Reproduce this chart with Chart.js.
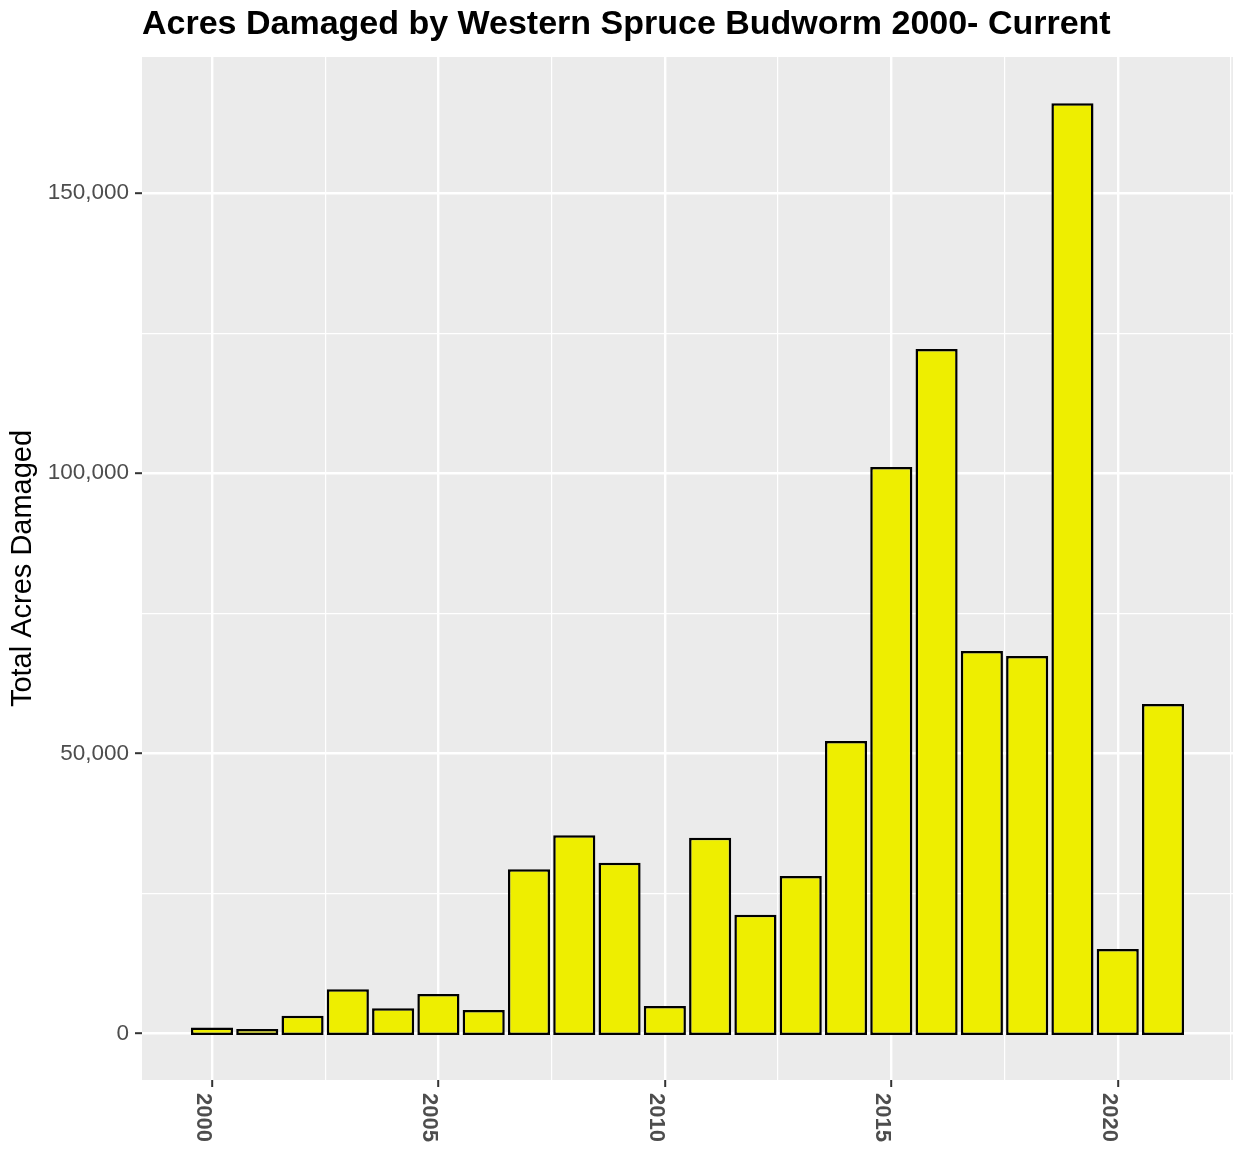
<!DOCTYPE html>
<html>
<head>
<meta charset="utf-8">
<script src="https://cdn.jsdelivr.net/npm/chart.js@4.4.1/dist/chart.umd.min.js"></script>
<style>
  body { margin: 0; background: #fff; }
  canvas { display: block; }
</style>
</head>
<body>
<canvas id="chart" width="1235" height="1153"></canvas>
<script>
// data
const years = [2000, 2001, 2002, 2003, 2004, 2005, 2006, 2007, 2008, 2009, 2010,
  2011, 2012, 2013, 2014, 2015, 2016, 2017, 2018, 2019, 2020, 2021];
const acresDamaged = [1070, 800, 3180, 7890, 4500, 7050, 4200, 29300, 35380, 30490, 4900,
  34950, 21200, 28110, 52210, 101100, 122180, 68270, 67380, 166040, 15080, 58810];
const xTickLabels = ['2000', '2005', '2010', '2015', '2020'];
const xGridValues = [2000, 2002.5, 2005, 2007.5, 2010, 2012.5, 2015, 2017.5, 2020, 2022.5];
const yTickValues = [0, 50000, 100000, 150000];
const yGridValues = [0, 25000, 50000, 75000, 100000, 125000, 150000];

const FONT = "'Liberation Sans', Arial, Helvetica, sans-serif";
const TICK_GREY = '#4D4D4D';

const isMajorX = v => xTickLabels.includes(String(v));
const isMajorY = v => yTickValues.includes(v);

// grey ggplot panel behind the grid
const panelBackground = {
  id: 'panelBackground',
  beforeDraw(chart) {
    const { ctx, chartArea: a } = chart;
    ctx.save();
    ctx.fillStyle = '#EBEBEB';
    ctx.fillRect(a.left, a.top, a.right - a.left, a.bottom - a.top);
    ctx.restore();
  }
};

// x labels turned 90 degrees clockwise, like the R plot
const xLabels = {
  id: 'xLabels',
  afterDraw(chart) {
    const { ctx } = chart;
    const xs = chart.scales.x;
    ctx.save();
    ctx.font = 'bold 22px ' + FONT;
    ctx.fillStyle = TICK_GREY;
    ctx.textAlign = 'left';
    ctx.textBaseline = 'alphabetic';
    xTickLabels.forEach(lbl => {
      const px = xs.getPixelForValue(Number(lbl));
      const asc = ctx.measureText(lbl).actualBoundingBoxAscent;
      ctx.save();
      ctx.translate(px - asc, chart.chartArea.bottom + 13);
      ctx.rotate(Math.PI / 2);
      ctx.fillText(lbl, 0, 0);
      ctx.restore();
    });
    ctx.restore();
  }
};

new Chart(document.getElementById('chart'), {
  type: 'bar',
  data: {
    datasets: [{
      data: years.map((y, i) => ({ x: y, y: acresDamaged[i] })),
      backgroundColor: '#EEEE00',
      borderColor: '#000000',
      borderWidth: 2.5,
      borderSkipped: false,
      base: -250, // outline sits a hair below zero, as in ggplot
      barPercentage: 0.93,
      categoryPercentage: 1.0
    }]
  },
  options: {
    responsive: false,
    animation: false,
    layout: { padding: { top: 0, right: 2, bottom: 0, left: 0 } },
    plugins: {
      legend: { display: false },
      tooltip: { enabled: false },
      title: {
        display: true,
        text: 'Acres Damaged by Western Spruce Budworm 2000- Current',
        align: 'start',
        fullSize: false,
        color: '#000',
        font: { family: FONT, size: 34, weight: 'bold' },
        padding: { top: 4, bottom: 12.2 }
      }
    },
    scales: {
      x: {
        type: 'linear',
        offset: false,
        min: 1998.455,
        max: 2022.545,
        border: { display: false },
        grid: {
          offset: false,
          color: '#FFFFFF',
          lineWidth: c => (c.tick && isMajorX(c.tick.value) ? 2.4 : 1.2),
          tickColor: c => (c.tick && isMajorX(c.tick.value) ? '#333333' : 'rgba(0,0,0,0)'),
          tickWidth: 2,
          tickLength: 7,
          drawTicks: true
        },
        ticks: { display: false },
        afterBuildTicks(scale) { scale.ticks = xGridValues.map(v => ({ value: v })); },
        afterFit(scale) { scale.height = 73; }
      },
      y: {
        min: -8300,
        max: 174300,
        border: { display: false },
        grid: {
          color: '#FFFFFF',
          lineWidth: c => (c.tick && isMajorY(c.tick.value) ? 2.4 : 1.2),
          tickColor: c => (c.tick && isMajorY(c.tick.value) ? '#333333' : 'rgba(0,0,0,0)'),
          tickWidth: 2,
          tickLength: 7,
          drawTicks: true
        },
        ticks: {
          autoSkip: false,
          padding: 6,
          color: TICK_GREY,
          font: { family: FONT, size: 22.5 },
          callback: v => (isMajorY(v) ? v.toLocaleString('en-US') : '')
        },
        afterBuildTicks(scale) { scale.ticks = yGridValues.map(v => ({ value: v })); },
        title: {
          display: true,
          text: 'Total Acres Damaged',
          color: '#000',
          font: { family: FONT, size: 29 },
          padding: { top: 6, bottom: 0 }
        },
        afterFit(scale) { scale.width = 142; }
      }
    }
  },
  plugins: [panelBackground, xLabels]
});
</script>
</body>
</html>
